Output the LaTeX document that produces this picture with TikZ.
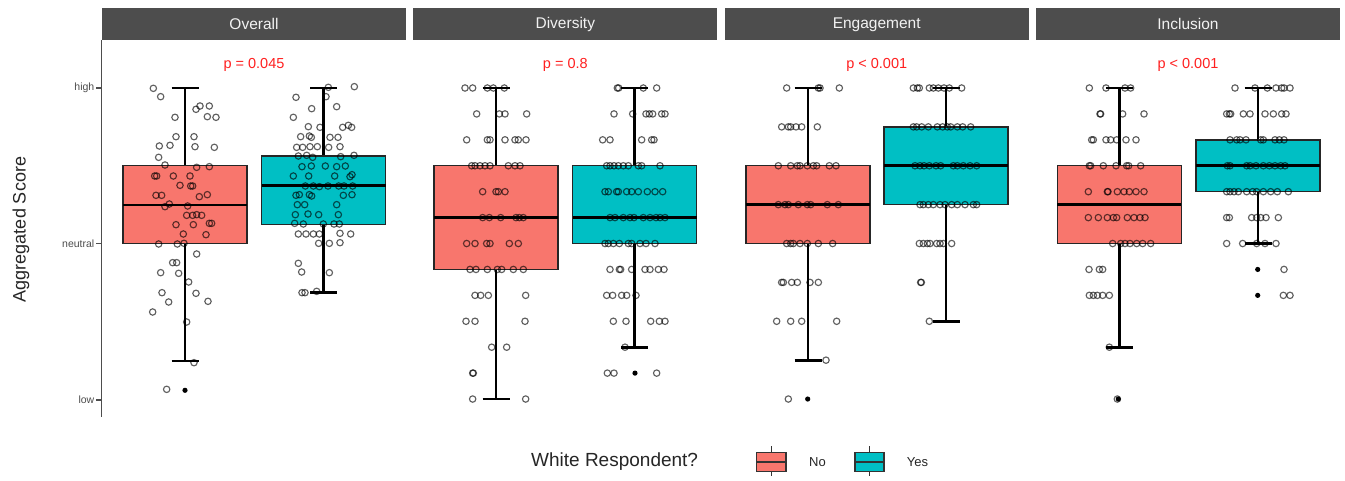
\documentclass[tikz,border=0pt]{standalone}
\usepackage{fontspec}
\setmainfont{Liberation Sans}
\definecolor{cNo}{HTML}{F8766D}
\definecolor{cYes}{HTML}{00BFC4}
\definecolor{stripgray}{HTML}{4D4D4D}
\definecolor{axisgray}{HTML}{4D4D4D}
\definecolor{pred}{HTML}{FF2020}
\newcommand\lvy[1]{88+25.92*#1}
% points on discrete levels: #1 = x origin of zoom, #2 = list k/{zoom xs}
\newcommand\lvpts[2]{\foreach \k/\xs in {#2}{\foreach \xx in \xs {\draw[jpt] ({#1+\xx/3},{88+25.92*\k}) circle[radius=3.2pt];}}}
% points from zoom coords: #1,#2 origin, #3 list a/b
\newcommand\zpts[3]{\foreach \a/\b in {#3}{\draw[jpt] ({#1+\a/3},{#2+\b/3}) circle[radius=3.2pt];}}
% boxplot: cx, whisker top, box top, median, box bottom, whisker bottom, fill
\newcommand\bxp[7]{%
  \draw[whisk] (#1,#2) -- (#1,#3);
  \draw[whisk] (#1,#5) -- (#1,#6);
  \draw[whisk] ({#1-13.5},#2) -- ({#1+13.5},#2);
  \draw[whisk] ({#1-13.5},#6) -- ({#1+13.5},#6);
  \filldraw[fill=#7, draw=black!85, line width=1.4pt] ({#1-62},#3) rectangle ({#1+62},#5);
  \draw[whisk] ({#1-62},#4) -- ({#1+62},#4);}
\begin{document}
\begin{tikzpicture}[x=1pt,y=-1pt,
  jpt/.style={draw=black, draw opacity=0.62, line width=1.15pt},
  whisk/.style={draw=black, line width=2.7pt},
  striptext/.style={text=white!95!black, font=\fontsize{15.5}{18}\selectfont, inner sep=0},
  ptext/.style={text=pred, font=\fontsize{14.5}{17}\selectfont, inner sep=0},
  ticklab/.style={text=axisgray, font=\fontsize{10.5}{12}\selectfont, anchor=east, inner sep=0},
  legtext/.style={font=\fontsize{13}{15}\selectfont, anchor=west, inner sep=0, text=black!85}]
\useasboundingbox (0,0) rectangle (1345,481);
\fill[white] (0,0) rectangle (1345,481);

% strips
\foreach \L/\T/\n in {102/Overall/s1, 413.3/Diversity/s2, 724.7/Engagement/s3, 1036/Inclusion/s4}{
  \fill[stripgray] (\L,8.3) rectangle ({\L+304},40);
  \node[striptext] (\n) at ({\L+152},24.4) {\T};
}

% y axis
\draw[axisgray, line width=1.2pt] (101.7,40) -- (101.7,417);
\foreach \yy/\lab/\n in {88/high/th, 243.5/neutral/tn, 400/low/tl}{
  \draw[axisgray, line width=1.1pt] (96,\yy) -- (101.7,\yy);
  \node[ticklab] (\n) at (94.5,\yy) {\lab};
}
\node[rotate=90, font=\fontsize{18}{21}\selectfont, text=black!85, inner sep=0] (ylab) at (21,229.5) {Aggregated Score};

% p values
\node[ptext] (p1) at (254,65) {p = 0.045};
\node[ptext] (p2) at (565.3,65) {p = 0.8};
\node[ptext] (p3) at (876.7,65) {p {\char"3C} 0.001};
\node[ptext] (p4) at (1188,65) {p {\char"3C} 0.001};

% ---------------- Overall
\bxp{185}{88}{165.7}{205}{243.5}{361}{cNo}
\bxp{323.7}{88}{156}{185.7}{224.3}{292.7}{cYes}
\fill (185,390.3) circle[radius=2.6pt];
\zpts{120}{80}{100/25,122/50,240/78,228/88,268/78,165/112,262/110,288/112,168/170,222/170,118/198,150/196,225/200,283/202,116/232,135/255,230/262,268/260,104/288,110/288,160/288,210/288,180/316,212/318,218/318,108/346,125/346,238/350,262/344,135/380,148/372,203/378,200/406,218/406,230/404,245/406,168/434,220/434,268/430,275/430,190/462,258/464,116/492,172/492,192/490,230/522,158/548,170/548,122/578,176/580,206/606,126/638,228/640,146/666,264/664,98/696,200/726,222/848,140/928}
\zpts{260}{80}{205/22,283/20,108/52,198/50,155/86,230/80,100/112,145/140,180/142,248/142,265/136,275/142,122/170,148/168,154/172,210/172,234/172,110/202,128/202,150/200,172/200,206/202,240/200,115/228,140/226,158/232,242/230,282/226,126/260,154/258,196/258,230/260,256/258,100/288,146/288,224/288,270/290,276/284,136/318,160/318,178/320,204/318,236/318,252/318,278/318,108/346,118/344,148/344,155/348,250/346,276/344,112/374,134/374,230/374,106/404,144/402,176/404,235/404,104/430,130/432,190/432,222/432,238/432,115/462,138/462,160/462,178/462,240/460,272/462,176/490,208/490,240/488,115/550,125/576,208/578,126/638,135/638,170/634}

% ---------------- Diversity
\bxp{496}{\lvy{0}}{\lvy{3}}{\lvy{5}}{\lvy{7}}{\lvy{12}}{cNo}
\bxp{634.5}{\lvy{0}}{\lvy{3}}{\lvy{5}}{\lvy{6}}{\lvy{10}}{cYes}
\fill (635,{\lvy{11}}) circle[radius=2.6pt];
\lvpts{410}{0/{165,188,232,250,283},1/{200,268,285,350},2/{170,232,240,285,315,325,348},3/{185,195,210,225,240,295,315,330},4/{218,258,265,285},5/{218,238,272,318,328,340},6/{170,195,230,240,298,325},7/{180,198,232,262,275,310,340},8/{195,212,235,347},9/{168,195,345},10/{245,290},11/{188,190},12/{188,347}}
\lvpts{410}{0/{622,626,700,740},1/{612,668,708,718,728,755,765},2/{578,600,695,725,732},3/{590,600,612,625,640,655,685,695,750},4/{585,595,620,625,650,665,685,712,735,758},5/{600,615,640,660,672,700,720,738,750,765},6/{585,595,610,628,655,665,690,708,735},7/{600,628,632,665,705,720,745,762},8/{590,608,635,650,678},9/{610,648,722,748,765},10/{645},11/{592,612,740}}

% ---------------- Engagement
\bxp{808}{\lvy{0}}{\lvy{3}}{\lvy{4.5}}{\lvy{6}}{\lvy{10.5}}{cNo}
\bxp{946}{\lvy{0}}{\lvy{1.5}}{\lvy{3}}{\lvy{4.5}}{\lvy{9}}{cYes}
\fill (807.7,{\lvy{12}}) circle[radius=2.6pt];
\lvpts{720}{0/{200,295,300,358},1.5/{185,205,212,228,245,292},3/{175,212,232,240,262,280,290,328,348},4.5/{175,195,205,235,262,272,322,355},6/{200,212,220,240,262,295,338},7.5/{185,190,215,232,270,295},9/{170,212,245,350},10.5/{318},12/{205}}
\lvpts{720}{0/{580,592,598,628,640,655,672,688,725},1.5/{580,590,605,625,652,668,682,692,712,728,752},3/{585,600,612,628,648,662,700,712,730,750,770},4.5/{600,610,625,640,660,675,695,712,735,760,770},6/{598,610,622,630,650,660,670,695},7.5/{602,604},9/{628}}

% ---------------- Inclusion
\bxp{1119.3}{\lvy{0}}{\lvy{3}}{\lvy{4.5}}{\lvy{6}}{\lvy{10}}{cNo}
\bxp{1258}{\lvy{0}}{\lvy{2}}{\lvy{3}}{\lvy{4}}{\lvy{6}}{cYes}
\fill (1118.3,{\lvy{12}}) circle[radius=2.6pt];
\fill (1257.7,{\lvy{7}}) circle[radius=2.6pt];
\fill (1257.7,{\lvy{8}}) circle[radius=2.6pt];
\lvpts{1030}{0/{178,228,285,302},1/{210,212,278,342},2/{185,190,228,242,260,288,318},3/{178,182,220,258,290,296,332},4/{175,232,234,262,282,298,318,342},5/{175,205,232,250,260,292,312,330,345},6/{248,272,285,300,320,338,362},7/{177,208,218},8/{178,190,202,218,238},10/{238},12/{262}}
\lvpts{1030}{0/{615,675,712,738,755,762,780},1/{590,598,602,640,660,705,730,755,768},2/{600,620,630,648,692,700,735,748,762},3/{592,600,650,660,678,700,718,735,752,765},4/{590,600,612,625,650,668,680,700,722,742,775},5/{590,598,665,680,692,708,745},6/{590,638,680,705,738},7/{762},8/{760,780}}

% ---------------- legend
\node[font=\fontsize{19}{22}\selectfont, anchor=west, inner sep=0, text=black!85] (legtitle) at (531,462) {White Respondent?};
\draw[black!80, line width=1.3pt] (771.3,446) -- (771.3,476);
\filldraw[fill=cNo, draw=black!80, line width=1.3pt] (756.7,452.3) rectangle (786,471.7);
\draw[black!80, line width=1.3pt] (756.7,462) -- (786,462);
\node[legtext] (lno) at (809,462.5) {No};
\draw[black!80, line width=1.3pt] (869.5,446) -- (869.5,476);
\filldraw[fill=cYes, draw=black!80, line width=1.3pt] (855,452.3) rectangle (884,471.7);
\draw[black!80, line width=1.3pt] (855,462) -- (884,462);
\node[legtext] (lyes) at (906.7,462.5) {Yes};
\end{tikzpicture}
\end{document}
